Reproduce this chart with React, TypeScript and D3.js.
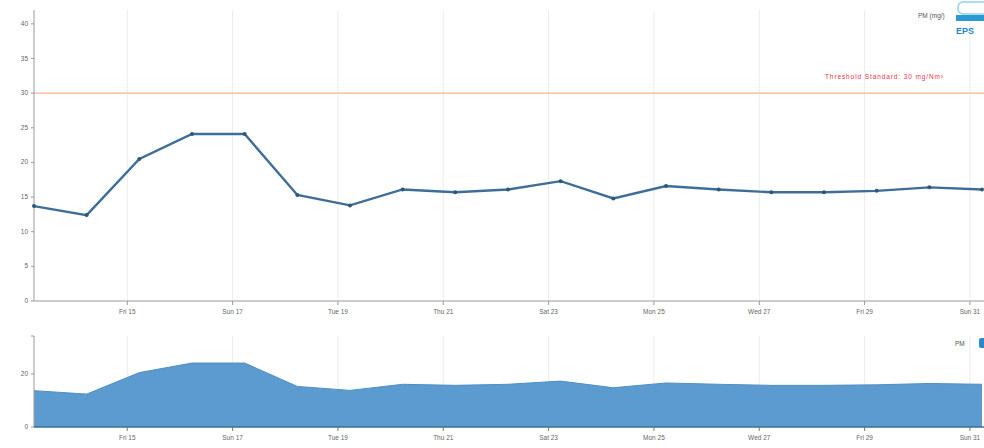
import React from "react";
import * as d3 from "d3";

const dayOfMonth = [13, 14, 15, 16, 17, 18, 19, 20, 21, 22, 23, 24, 25, 26, 27, 28, 29, 30, 31];
const pmValues = [13.7, 12.4, 20.5, 24.1, 24.1, 15.3, 13.8, 16.1, 15.7, 16.1, 17.3, 14.8, 16.6, 16.1, 15.7, 15.7, 15.9, 16.4, 16.1];
const yTicks = [0, 5, 10, 15, 20, 25, 30, 35, 40];
const y2Ticks = [0, 20];
const threshold = 30;
const thresholdLabel = "Threshold Standard: 30 mg/Nm³";
const seriesName = "PM (mg/)";
const contextName = "PM";

const W = 984;
const H = 448;

export default function App() {
  const data = dayOfMonth.map((d, i) => ({ date: new Date(2019, 2, d, 5, 30), v: pmValues[i] }));
  const x = d3.scaleTime().domain([data[0].date, data[data.length - 1].date]).range([34, 982]);
  const y = d3.scaleLinear().domain([0, 42]).range([301, 10]);
  const y2 = d3.scaleLinear().domain([0, 34.3]).range([427, 336]);
  const xTicks = x.ticks(d3.timeDay.every(2) as any);
  const fmt = d3.timeFormat("%a %d");
  const line = d3.line<any>().x((d) => x(d.date)).y((d) => y(d.v));
  const area = d3.area<any>().x((d) => x(d.date)).y0(y2(0)).y1((d) => y2(d.v));
  const lineTop = d3.line<any>().x((d) => x(d.date)).y((d) => y2(d.v));
  const font = "Liberation Sans, Arial, sans-serif";
  return (
    <svg width={W} height={H} style={{ position: "absolute", left: 0, top: 0, background: "#fff" }} fontFamily={font}>
      {xTicks.map((t, i) => (
        <line key={"g" + i} x1={x(t)} x2={x(t)} y1={10} y2={301} stroke="#ececec" strokeWidth={1} />
      ))}
      <line x1={34} x2={984} y1={y(threshold)} y2={y(threshold)} stroke="#ffb48a" strokeWidth={1.2} />
      <text x={825} y={79} fontSize={6.5} fill="#e8304a" textLength={118} lengthAdjust="spacing">{thresholdLabel}</text>
      <line x1={34} x2={34} y1={10} y2={301} stroke="#999" />
      {yTicks.map((t, i) => (
        <g key={"y" + i}>
          <line x1={31} x2={34} y1={y(t)} y2={y(t)} stroke="#999" />
          <text x={28} y={y(t) + 2} fontSize={6.5} fill="#666" textAnchor="end">{t}</text>
        </g>
      ))}
      <line x1={34} x2={984} y1={301} y2={301} stroke="#bbb" strokeWidth={1.5} />
      {xTicks.map((t, i) => (
        <g key={"x" + i}>
          <line x1={x(t)} x2={x(t)} y1={301} y2={305} stroke="#999" />
          <text x={x(t)} y={314} fontSize={6.5} fill="#666" textAnchor="middle">{fmt(t)}</text>
        </g>
      ))}
      <path d={line(data) || ""} fill="none" stroke="#3d6e99" strokeWidth={2.4} />
      {data.map((d, i) => (
        <circle key={"p" + i} cx={x(d.date)} cy={y(d.v)} r={2} fill="#2d5878" />
      ))}
      <text x={918} y={18} fontSize={6.5} fill="#555">{seriesName}</text>
      <rect x={958} y={2} width={30} height={12} rx={5} fill="#fff" stroke="#8fd2ee" strokeWidth={1.5} />
      <rect x={956} y={15} width={30} height={6} fill="#2a9ad0" />
      <text x={956} y={34} fontSize={9} fontWeight="bold" fill="#1d87c8">EPS</text>

      {xTicks.map((t, i) => (
        <line key={"g2" + i} x1={x(t)} x2={x(t)} y1={336} y2={427} stroke="#ececec" />
      ))}
      <path d={area(data) || ""} fill="#5b9bd0" />
      <path d={lineTop(data) || ""} fill="none" stroke="#4f8fc4" strokeWidth={1} />
      <line x1={34} x2={34} y1={336} y2={427} stroke="#999" />
      {y2Ticks.map((t, i) => (
        <g key={"y2" + i}>
          <line x1={31} x2={34} y1={y2(t)} y2={y2(t)} stroke="#999" />
          <text x={28} y={y2(t) + 2} fontSize={6.5} fill="#666" textAnchor="end">{t}</text>
        </g>
      ))}
      <line x1={31} x2={34} y1={336} y2={336} stroke="#999" />
      <line x1={34} x2={984} y1={427} y2={427} stroke="#3d6e99" strokeWidth={1.5} />
      {xTicks.map((t, i) => (
        <g key={"x2" + i}>
          <line x1={x(t)} x2={x(t)} y1={427} y2={431} stroke="#777" />
          <text x={x(t)} y={440} fontSize={6.5} fill="#666" textAnchor="middle">{fmt(t)}</text>
        </g>
      ))}
      <text x={955} y={346} fontSize={6.5} fill="#555">{contextName}</text>
      <rect x={979} y={338} width={8} height={10} rx={2} fill="#2a8ad0" />
    </svg>
  );
}
